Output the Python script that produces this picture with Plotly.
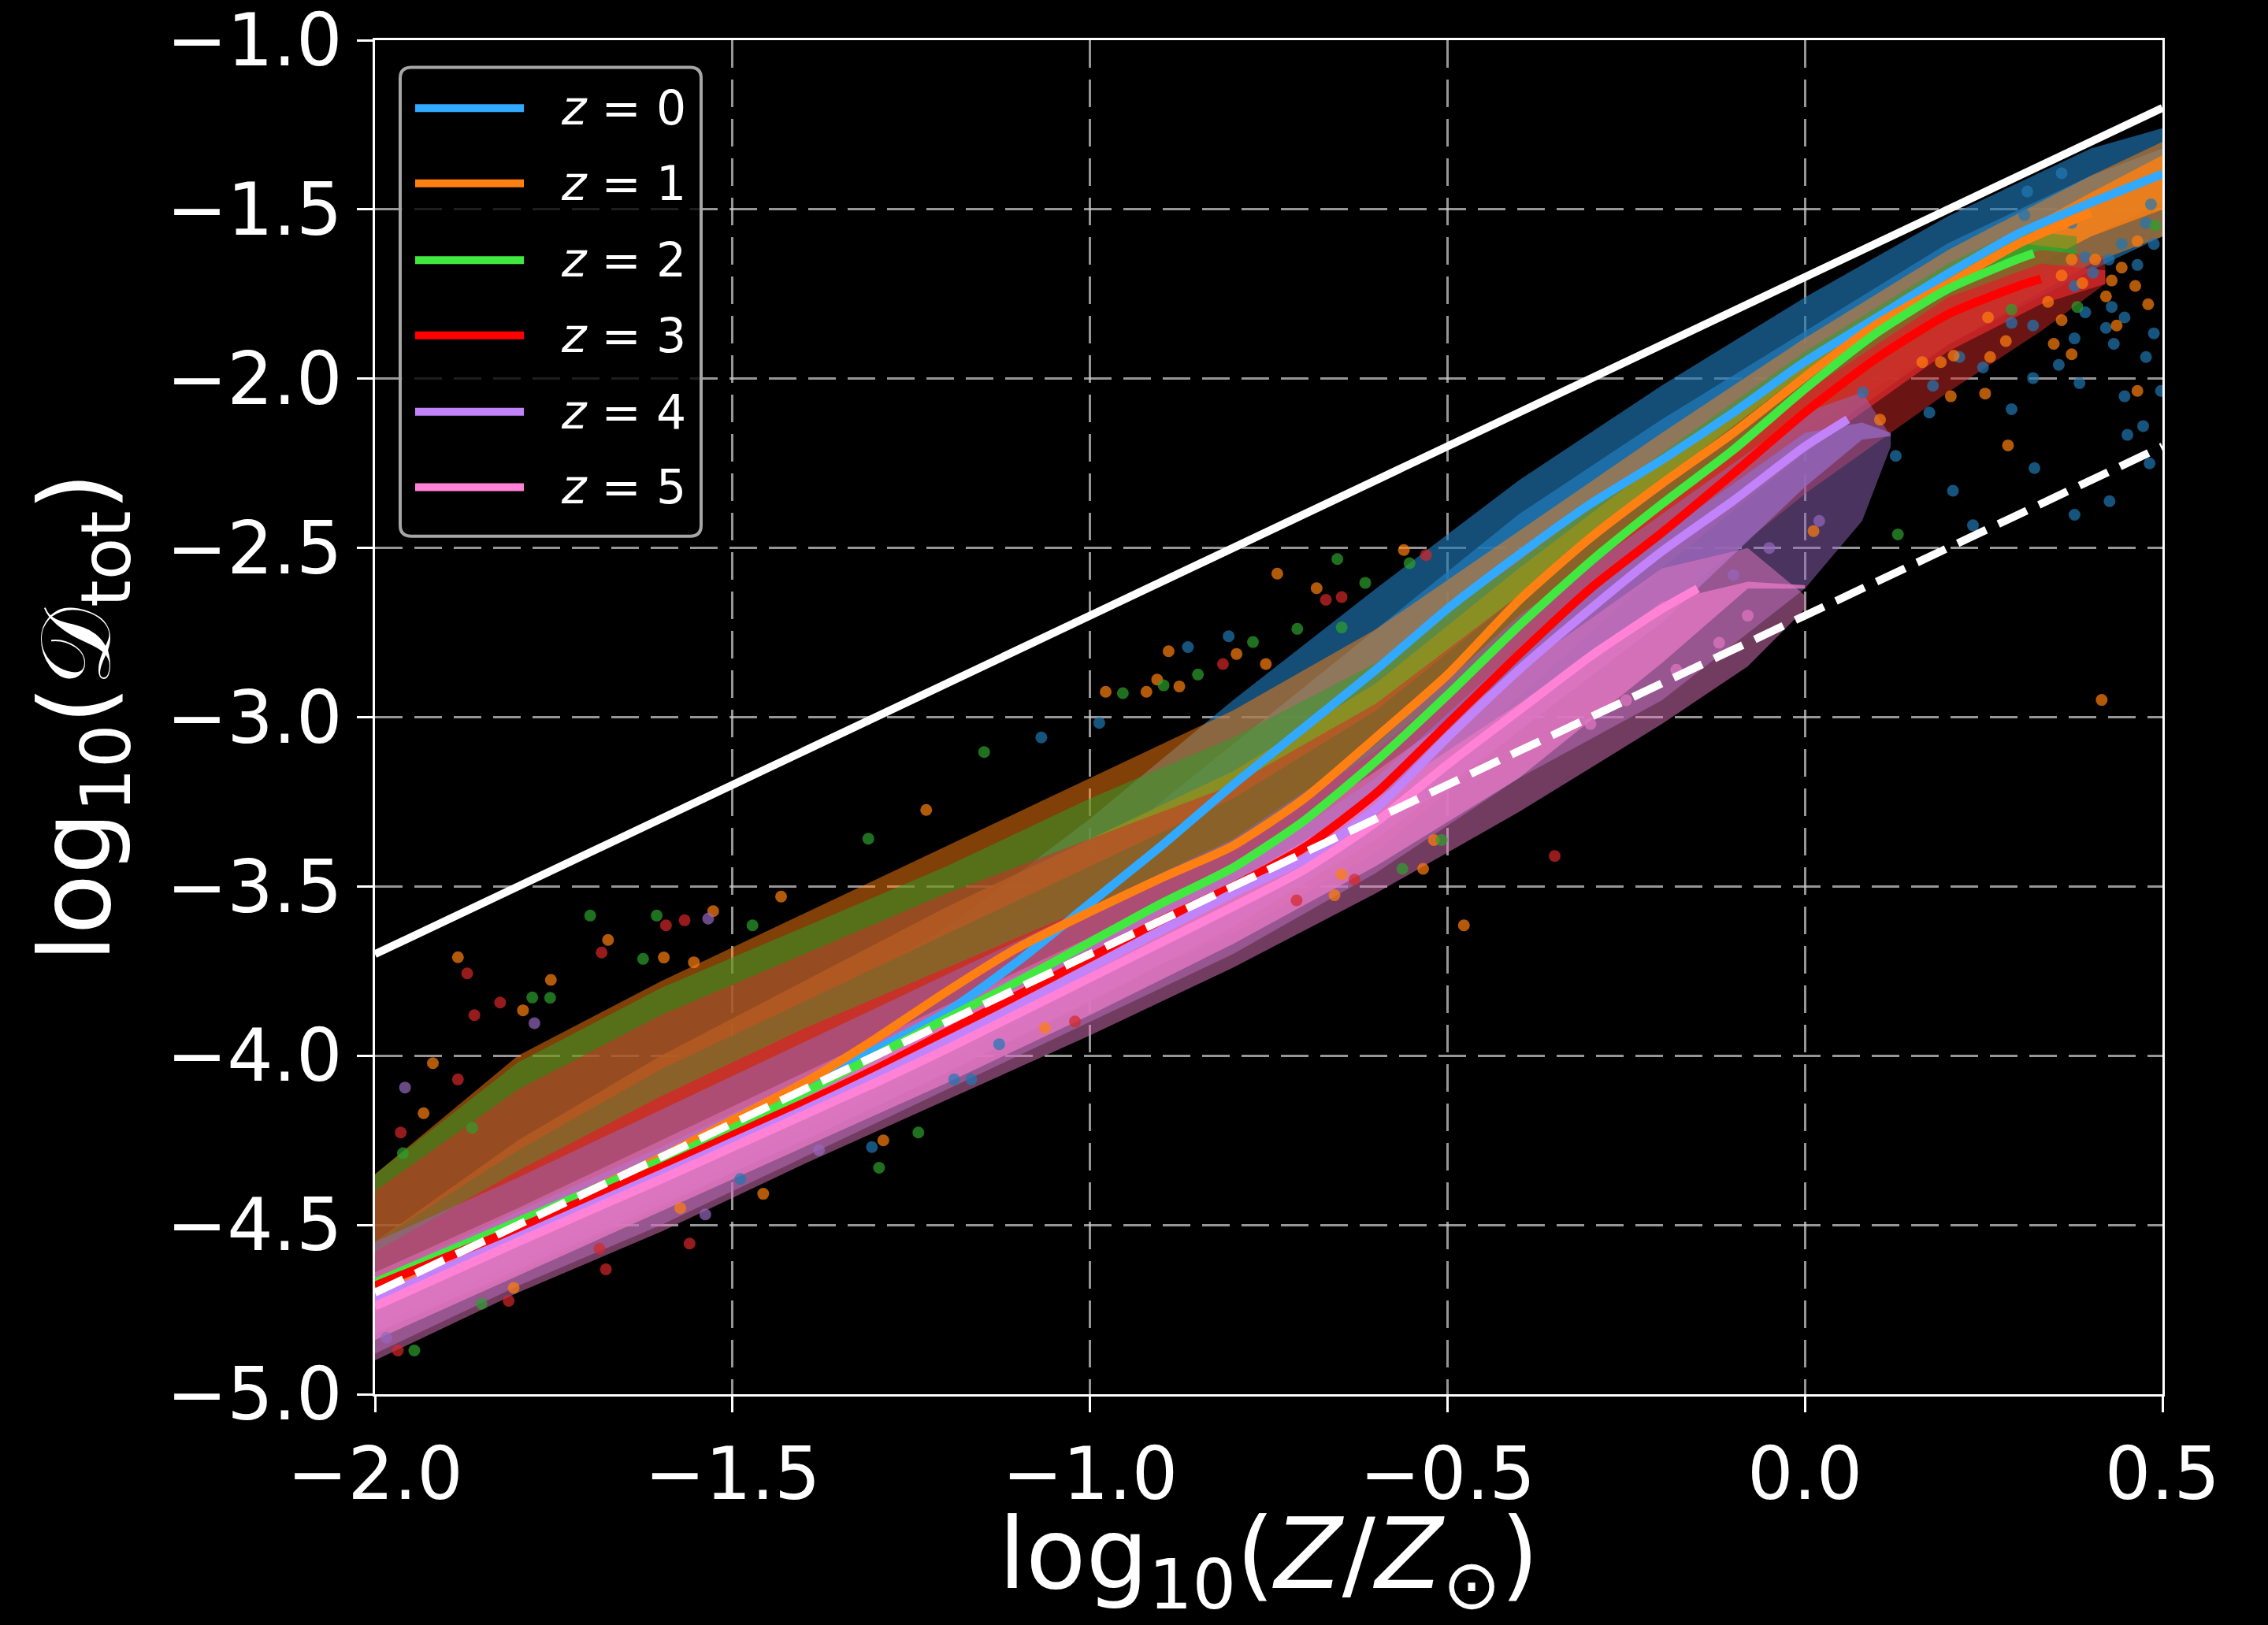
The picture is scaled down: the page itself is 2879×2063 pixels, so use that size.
import plotly.graph_objects as go

# ---------------------------------------------------------------------------
# Median relations of log10(D_tot) versus log10(Z/Zsun) for each redshift
# ---------------------------------------------------------------------------
redshifts = [0, 1, 2, 3, 4, 5]

z0_x = [-2.0, -1.8, -1.6, -1.4, -1.2, -1.1, -1.0, -0.9, -0.8, -0.7, -0.6, -0.5,
        -0.4, -0.3, -0.2, -0.1, 0.0, 0.1, 0.2, 0.3, 0.4, 0.5]
z0_y = [-4.68, -4.50, -4.30, -4.09, -3.87, -3.72, -3.55, -3.38, -3.20, -3.03, -2.86,
        -2.68, -2.52, -2.37, -2.24, -2.10, -1.95, -1.82, -1.69, -1.57, -1.48, -1.395]

z1_x = [-2.0, -1.8, -1.6, -1.5, -1.4, -1.3, -1.2, -1.1, -1.0, -0.9, -0.8, -0.7,
        -0.6, -0.5, -0.4, -0.3, -0.2, -0.1, 0.0, 0.1, 0.2, 0.3, 0.4]
z1_y = [-4.69, -4.50, -4.30, -4.19, -4.08, -3.95, -3.81, -3.68, -3.575, -3.475, -3.38,
        -3.24, -3.06, -2.875, -2.655, -2.47, -2.31, -2.16, -1.995, -1.84, -1.72, -1.60,
        -1.51]

z2_x = [-2.0, -1.8, -1.6, -1.5, -1.4, -1.3, -1.2, -1.1, -1.0, -0.9, -0.8, -0.7,
        -0.6, -0.5, -0.4, -0.3, -0.2, -0.1, 0.0, 0.1, 0.2, 0.3, 0.32]
z2_y = [-4.67, -4.49, -4.31, -4.215, -4.11, -4.00, -3.89, -3.78, -3.665, -3.55, -3.445,
        -3.305, -3.13, -2.935, -2.73, -2.54, -2.37, -2.21, -2.03, -1.865, -1.735, -1.645,
        -1.63]

z3_x = [-2.0, -1.8, -1.6, -1.5, -1.4, -1.3, -1.2, -1.1, -1.0, -0.9, -0.8, -0.7,
        -0.6, -0.5, -0.4, -0.3, -0.2, -0.1, 0.0, 0.1, 0.2, 0.3, 0.33]
z3_y = [-4.68, -4.51, -4.33, -4.235, -4.14, -4.04, -3.93, -3.82, -3.71, -3.60, -3.50,
        -3.385, -3.225, -3.02, -2.815, -2.62, -2.455, -2.28, -2.10, -1.94, -1.81, -1.725,
        -1.705]

z4_x = [-2.0, -1.8, -1.6, -1.5, -1.4, -1.3, -1.2, -1.1, -1.0, -0.9, -0.8, -0.7,
        -0.6, -0.5, -0.4, -0.3, -0.2, -0.1, 0.0, 0.06]
z4_y = [-4.72, -4.535, -4.35, -4.255, -4.16, -4.06, -3.955, -3.85, -3.74, -3.63, -3.52,
        -3.42, -3.27, -3.06, -2.86, -2.68, -2.51, -2.36, -2.20, -2.12]

z5_x = [-2.0, -1.8, -1.6, -1.5, -1.4, -1.3, -1.2, -1.1, -1.0, -0.9, -0.8, -0.7,
        -0.6, -0.5, -0.4, -0.3, -0.2, -0.15]
z5_y = [-4.74, -4.55, -4.365, -4.27, -4.175, -4.08, -3.98, -3.875, -3.77, -3.665, -3.56,
        -3.45, -3.31, -3.14, -2.98, -2.82, -2.68, -2.62]

# Reference scalings (solid and dashed white lines)
ref_x = [-2.0, 0.5]
ref_upper_y = [-3.7, -1.2]
ref_lower_y = [-4.7, -2.2]

# ---------------------------------------------------------------------------
# Extent of the galaxy cloud at each redshift: sparse outer envelope and
# dense core (lower / upper bounds)
# ---------------------------------------------------------------------------
o0_x = [-2.0, -1.6, -1.2, -1.0, -0.8, -0.6, -0.4, -0.2, 0.0, 0.2, 0.4, 0.5]
o0_lo = [-4.80, -4.42, -4.02, -3.78, -3.45, -3.08, -2.72, -2.42, -2.15, -1.90, -1.68, -1.58]
o0_hi = [-4.70, -4.12, -3.62, -3.30, -2.95, -2.62, -2.30, -2.02, -1.76, -1.52, -1.32, -1.26]
c0_lo = [-4.74, -4.36, -3.94, -3.68, -3.32, -2.98, -2.64, -2.34, -2.06, -1.80, -1.58, -1.48]
c0_hi = [-4.70, -4.22, -3.76, -3.42, -3.08, -2.74, -2.40, -2.12, -1.86, -1.60, -1.40, -1.32]

o1_x = [-2.0, -1.8, -1.6, -1.4, -1.2, -1.0, -0.8, -0.6, -0.4, -0.2, 0.0, 0.2, 0.4, 0.5]
o1_lo = [-4.78, -4.60, -4.40, -4.18, -3.95, -3.72, -3.52, -3.28, -2.90, -2.50, -2.20,
         -1.90, -1.66, -1.58]
o1_hi = [-4.35, -4.00, -3.78, -3.58, -3.38, -3.18, -2.98, -2.74, -2.45, -2.16, -1.88,
         -1.62, -1.40, -1.30]
c1_lo = [-4.72, -4.54, -4.34, -4.12, -3.88, -3.64, -3.44, -3.16, -2.78, -2.40, -2.08,
         -1.80, -1.58, -1.50]
c1_hi = [-4.55, -4.25, -4.00, -3.78, -3.56, -3.36, -3.16, -2.90, -2.56, -2.24, -1.94,
         -1.68, -1.45, -1.34]

o2_x = [-2.0, -1.8, -1.6, -1.4, -1.2, -1.0, -0.8, -0.6, -0.4, -0.2, 0.0, 0.2, 0.3, 0.38]
o2_lo = [-4.78, -4.60, -4.40, -4.20, -3.98, -3.78, -3.55, -3.28, -2.90, -2.55, -2.20,
         -1.90, -1.78, -1.64]
o2_hi = [-4.35, -4.02, -3.80, -3.62, -3.44, -3.24, -3.06, -2.84, -2.54, -2.22, -1.92,
         -1.66, -1.56, -1.58]
c2_lo = [-4.72, -4.54, -4.34, -4.14, -3.92, -3.70, -3.48, -3.20, -2.82, -2.46, -2.12,
         -1.84, -1.72, -1.64]
c2_hi = [-4.55, -4.28, -4.04, -3.84, -3.64, -3.44, -3.24, -2.98, -2.64, -2.30, -1.98,
         -1.70, -1.60, -1.62]

o3_x = [-2.0, -1.8, -1.6, -1.4, -1.2, -1.0, -0.8, -0.6, -0.4, -0.2, 0.0, 0.2, 0.33, 0.42]
o3_lo = [-4.82, -4.64, -4.45, -4.24, -4.02, -3.82, -3.64, -3.40, -3.04, -2.68, -2.34,
         -2.04, -1.86, -1.72]
o3_hi = [-4.40, -4.10, -3.88, -3.70, -3.52, -3.36, -3.20, -2.96, -2.64, -2.30, -1.98,
         -1.70, -1.62, -1.64]
c3_lo = [-4.74, -4.56, -4.38, -4.18, -3.98, -3.76, -3.56, -3.32, -2.94, -2.56, -2.22,
         -1.92, -1.78, -1.72]
c3_hi = [-4.58, -4.34, -4.12, -3.92, -3.74, -3.56, -3.38, -3.10, -2.74, -2.38, -2.04,
         -1.76, -1.66, -1.68]

o4_x = [-2.0, -1.8, -1.6, -1.4, -1.2, -1.0, -0.8, -0.6, -0.4, -0.2, 0.0, 0.08, 0.12]
o4_lo = [-4.88, -4.68, -4.50, -4.30, -4.10, -3.90, -3.70, -3.46, -3.18, -2.95, -2.62,
         -2.42, -2.20]
o4_hi = [-4.55, -4.36, -4.16, -3.96, -3.76, -3.56, -3.36, -3.08, -2.70, -2.40, -2.10,
         -2.04, -2.17]
c4_lo = [-4.82, -4.63, -4.44, -4.25, -4.05, -3.84, -3.62, -3.36, -3.04, -2.72, -2.32,
         -2.18, -2.17]
c4_hi = [-4.66, -4.46, -4.27, -4.07, -3.86, -3.66, -3.46, -3.18, -2.80, -2.46, -2.16,
         -2.13, -2.16]

o5_x = [-2.0, -1.8, -1.6, -1.4, -1.2, -1.0, -0.8, -0.6, -0.4, -0.2, -0.08, 0.0]
o5_lo = [-4.90, -4.70, -4.52, -4.32, -4.13, -3.94, -3.74, -3.52, -3.28, -3.02, -2.85,
         -2.68]
o5_hi = [-4.64, -4.45, -4.25, -4.05, -3.85, -3.65, -3.43, -3.16, -2.86, -2.56, -2.50,
         -2.64]
c5_lo = [-4.84, -4.65, -4.46, -4.27, -4.08, -3.88, -3.67, -3.44, -3.18, -2.84, -2.62,
         -2.62]
c5_hi = [-4.68, -4.49, -4.30, -4.10, -3.90, -3.70, -3.49, -3.24, -2.96, -2.66, -2.60,
         -2.61]

# ---------------------------------------------------------------------------
# Individual galaxies lying outside the dense cloud
# ---------------------------------------------------------------------------
s0_x = [-1.127, -1.166, -1.19, -1.305, -1.489, -0.863, 0.484, 0.477, 0.488, 0.465,
        0.443, 0.425, 0.403, 0.392, 0.377, 0.429, 0.447, 0.488, 0.477, 0.432, 0.421,
        0.392, 0.377, 0.355, 0.384, 0.447, 0.498, 0.319, 0.289, 0.319, 0.289, 0.249,
        0.216, 0.179, 0.311, 0.359, 0.307, 0.373, 0.321, 0.426, 0.207, 0.127, 0.377,
        0.482, 0.235, 0.451, 0.473, 0.081, 0.174, -0.987, -0.806, -1.068]
s0_y = [-3.966, -4.07, -4.07, -4.27, -4.364, -2.793, -1.485, -1.540, -1.602, -1.664,
        -1.602, -1.648, -1.687, -1.641, -1.726, -1.788, -1.819, -1.866, -1.936, -1.897,
        -1.850, -1.804, -1.881, -1.959, -2.013, -2.052, -2.036, -1.843, -1.835, -1.998,
        -2.090, -1.967, -1.936, -2.021, -1.447, -1.393, -1.517, -1.540, -2.264, -2.362,
        -2.331, -2.228, -2.402, -2.250, -2.433, -2.166, -2.14, -2.04, -2.10, -3.017,
        -2.761, -3.060]

s1_x = [-1.884, -1.754, -1.793, -1.919, -1.932, -1.596, -1.554, -1.289, -1.457, -1.806,
        -1.063, -1.573, -0.738, -0.683, -0.561, -0.795, -0.890, -0.978, -0.921, -0.875,
        -0.754, -0.519, -0.534, -0.658, -0.648, 0.415, -0.477, -1.527, 0.465, 0.443,
        0.406, 0.388, 0.373, 0.359, 0.429, 0.462, 0.421, 0.340, 0.359, 0.348, 0.373,
        0.436, 0.480, 0.465, 0.259, 0.208, 0.256, 0.281, 0.164, 0.190, 0.252, 0.204,
        0.284, 0.012, 0.105, -1.674, -1.432, -1.229, -0.906]
s1_y = [-3.709, -3.776, -3.866, -4.022, -4.170, -3.710, -3.724, -4.25, -4.408, -4.686,
        -3.918, -4.45, -2.576, -2.619, -2.506, -2.813, -2.805, -2.925, -2.925, -2.909,
        -2.843, -3.363, -3.448, -3.526, -3.464, -2.949, -3.615, -3.573, -1.594, -1.672,
        -1.648, -1.718, -1.648, -1.695, -1.710, -1.726, -1.757, -1.773, -1.827, -1.897,
        -1.928, -1.843, -1.780, -2.036, -1.936, -1.932, -1.819, -1.889, -1.951, -1.951,
        -2.044, -2.052, -2.197, -2.45, -2.121, -3.658, -3.530, -3.274, -2.889]

s2_x = [-1.699, -1.780, -1.961, -1.864, -1.606, -1.625, -1.240, -1.295, -1.945, -1.851,
        -0.654, -0.615, -0.648, -0.553, -0.710, -0.772, -0.954, -0.897, -0.849, -0.563,
        -0.508, 0.49, 0.381, 0.289, 0.130, -1.755, -1.472, -1.310, -1.148]
s2_y = [-3.586, -3.828, -4.288, -4.213, -3.586, -3.714, -4.227, -4.331, -4.871, -4.733,
        -2.533, -2.603, -2.735, -2.545, -2.739, -2.778, -2.929, -2.906, -2.874, -3.448,
        -3.363, -1.548, -1.788, -1.796, -2.46, -3.829, -3.615, -3.359, -3.103]

s3_x = [-1.871, -1.861, -1.683, -1.884, -1.964, -1.825, -1.567, -1.560, -1.677, -1.686,
        -1.968, -1.813, -1.021, -0.670, -0.648, -0.530, -0.814, -0.711, -0.630, -0.35,
        -1.593]
s3_y = [-3.757, -3.880, -3.695, -4.070, -4.227, -3.843, -3.600, -4.555, -4.631, -4.570,
        -4.871, -4.724, -3.899, -2.653, -2.645, -2.521, -2.843, -3.541, -3.48, -3.41,
        -3.615]

s4_x = [-1.777, -1.958, -1.534, -1.984, -1.379, -1.538, -0.05, -0.10, 0.02]
s4_y = [-3.904, -4.094, -3.595, -4.833, -4.279, -4.469, -2.50, -2.58, -2.42]

s5_x = [-0.25, -0.18, -0.12, -0.30, -0.08]
s5_y = [-2.95, -2.86, -2.78, -3.02, -2.70]

# ---------------------------------------------------------------------------
# Styling
# ---------------------------------------------------------------------------
line_colors = ["#31a9ff", "#ff8012", "#40e840", "#ff0000", "#c283fa", "#ff82d6"]
cloud_colors = [(31, 119, 180), (255, 127, 14), (44, 160, 44), (214, 39, 40),
                (148, 103, 189), (227, 119, 194)]
outer_alpha = [0.65, 0.5, 0.5, 0.5, 0.5, 0.5]

medians = [(z0_x, z0_y), (z1_x, z1_y), (z2_x, z2_y), (z3_x, z3_y), (z4_x, z4_y),
           (z5_x, z5_y)]
clouds = [(o0_x, o0_lo, o0_hi, c0_lo, c0_hi), (o1_x, o1_lo, o1_hi, c1_lo, c1_hi),
          (o2_x, o2_lo, o2_hi, c2_lo, c2_hi), (o3_x, o3_lo, o3_hi, c3_lo, c3_hi),
          (o4_x, o4_lo, o4_hi, c4_lo, c4_hi), (o5_x, o5_lo, o5_hi, c5_lo, c5_hi)]
singles = [(s0_x, s0_y), (s1_x, s1_y), (s2_x, s2_y), (s3_x, s3_y), (s4_x, s4_y),
           (s5_x, s5_y)]

FONT = "DejaVu Sans"

fig = go.Figure()


def band_trace(bx, lo, hi, rgba):
    return go.Scatter(x=bx + bx[::-1], y=hi + lo[::-1], mode="lines", fill="toself",
                      fillcolor=rgba, line=dict(width=0),
                      hoverinfo="skip", showlegend=False)


# Galaxy clouds: outer sparse envelope, then dense core
for (bx, olo, ohi, clo, chi), (r, g, b), a in zip(clouds, cloud_colors, outer_alpha):
    fig.add_trace(band_trace(bx, olo, ohi, f"rgba({r},{g},{b},{a})"))
    fig.add_trace(band_trace(bx, clo, chi, f"rgba({r},{g},{b},0.8)"))

for (sx, sy), (r, g, b) in zip(singles, cloud_colors):
    fig.add_trace(go.Scatter(
        x=sx, y=sy, mode="markers",
        marker=dict(size=15, color=f"rgba({r},{g},{b},0.7)", line=dict(width=0)),
        hoverinfo="skip", showlegend=False))

# Median relations
for (mx, my), col, z in zip(medians, line_colors, redshifts):
    fig.add_trace(go.Scatter(
        x=mx, y=my, mode="lines", name=f"z = {z}",
        line=dict(color=col, width=11, shape="spline", smoothing=0.6),
        showlegend=False))

# Reference scalings
fig.add_trace(go.Scatter(x=ref_x, y=ref_upper_y, mode="lines",
                         line=dict(color="white", width=10), showlegend=False))
fig.add_trace(go.Scatter(x=ref_x, y=ref_lower_y, mode="lines",
                         line=dict(color="white", width=10, dash="40px,17px"),
                         showlegend=False))

# Legend drawn as a framed panel in the upper-left corner
W_PLOT, H_PLOT = 2269.0, 1718.6


def px_to_paper(xp, yp):
    return (xp - 476.0) / W_PLOT, (1770.0 - yp) / H_PLOT


lx0, ly1 = px_to_paper(508, 86)
lx1, ly0 = px_to_paper(890, 681)
rx, ry = 14 / W_PLOT, 14 / H_PLOT
box_path = (f"M {lx0+rx},{ly1} L {lx1-rx},{ly1} Q {lx1},{ly1} {lx1},{ly1-ry} "
            f"L {lx1},{ly0+ry} Q {lx1},{ly0} {lx1-rx},{ly0} "
            f"L {lx0+rx},{ly0} Q {lx0},{ly0} {lx0},{ly0+ry} "
            f"L {lx0},{ly1-ry} Q {lx0},{ly1} {lx0+rx},{ly1} Z")
shapes = [dict(type="path", path=box_path, xref="paper", yref="paper",
               line=dict(color="#a6a6a6", width=4), fillcolor="rgba(0,0,0,0.8)",
               layer="above")]
annotations = []
entry_y = [137.7, 233.2, 330.5, 426.0, 523.0, 618.7]
for ypx, col, z in zip(entry_y, line_colors, redshifts):
    sx0, sy = px_to_paper(527, ypx)
    sx1, _ = px_to_paper(665, ypx)
    shapes.append(dict(type="line", xref="paper", yref="paper", x0=sx0, x1=sx1,
                       y0=sy, y1=sy, line=dict(color=col, width=10), layer="above"))
    tx, _ = px_to_paper(710, ypx)
    annotations.append(dict(xref="paper", yref="paper", x=tx, y=sy, xanchor="left",
                            yanchor="middle", showarrow=False,
                            text=f"<i>z</i> = {z}",
                            font=dict(family=FONT, size=60, color="white")))

axis_common = dict(
    showline=True, linecolor="white", linewidth=3, mirror=True,
    ticks="outside", ticklen=20, tickwidth=3, tickcolor="white",
    showgrid=True, gridcolor="rgba(200,200,200,0.75)", gridwidth=2.5,
    griddash="35px,15px", zeroline=False, tickformat=".1f",
    ticklabeloverflow="allow",
    tickfont=dict(family=FONT, size=92, color="white"),
)

fig.update_layout(
    width=2879, height=2063,
    paper_bgcolor="black", plot_bgcolor="black",
    margin=dict(l=476, r=134, t=51, b=293, autoexpand=False),
    showlegend=False,
    shapes=shapes, annotations=annotations,
    xaxis=dict(range=[-2.0, 0.5], tickvals=[-2.0, -1.5, -1.0, -0.5, 0.0, 0.5],
               title=dict(text="log<sub>10</sub>(<i>Z</i>/<i>Z</i><sub>⊙</sub>)",
                          font=dict(family=FONT, size=125, color="white"),
                          standoff=42),
               **axis_common),
    yaxis=dict(range=[-5.0, -1.0], tickvals=[-5.0, -4.5, -4.0, -3.5, -3.0, -2.5, -2.0,
                                             -1.5, -1.0],
               title=dict(text="log<sub>10</sub>(𝒟<sub>tot</sub>)",
                          font=dict(family=FONT, size=125, color="white"),
                          standoff=30),
               **axis_common),
)

fig.write_html("out.html")
